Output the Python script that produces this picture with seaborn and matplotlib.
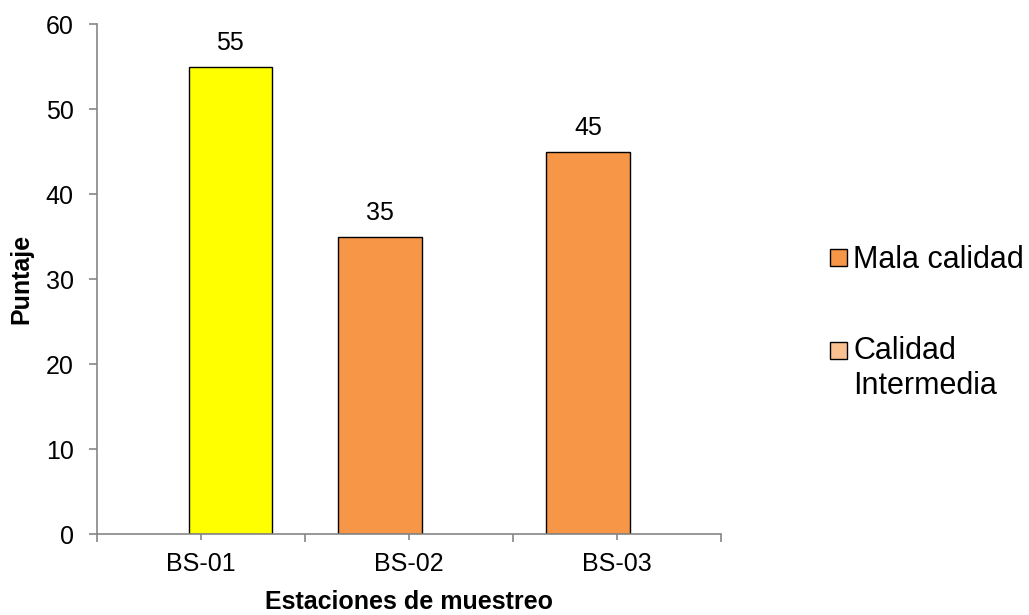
import matplotlib
matplotlib.use("Agg")
import matplotlib.pyplot as plt
from matplotlib.patches import Patch
from matplotlib.legend_handler import HandlerPatch
from matplotlib.ticker import FixedLocator
import pandas as pd
import seaborn as sns

# --- data ---------------------------------------------------------------
stations = ["BS-01", "BS-02", "BS-03"]
quality = ["Calidad Intermedia", "Mala calidad", "Mala calidad"]
scores = [55, 35, 45]
quality_levels = ["Mala calidad", "Calidad Intermedia"]
legend_labels = ["Mala calidad", "Calidad\nIntermedia"]
y_ticks = [0, 10, 20, 30, 40, 50, 60]

# --- style --------------------------------------------------------------
palette = {"Mala calidad": "#F79646", "Calidad Intermedia": "#FAC090"}
highlight = {"BS-01": "#FFFF00"}
axis_grey = "#868686"
bar_offset = 0.14          # distance of each series' bar from the category centre
bar_width = 0.8            # seaborn group width -> each bar 0.4

sns.set_style("white")
plt.rcParams["font.family"] = ["Liberation Sans", "DejaVu Sans"]
plt.rcParams["text.color"] = "black"
plt.rcParams["axes.labelcolor"] = "black"

df = pd.DataFrame({"Estación": stations, "Calidad": quality, "Puntaje": scores})

fig = plt.figure(figsize=(10.29, 6.15), dpi=100)
ax = fig.add_axes([0.0943, 0.1309, 0.6064, 0.8296])

sns.barplot(data=df, x="Estación", y="Puntaje", hue="Calidad",
            order=stations, hue_order=quality_levels, palette=palette,
            dodge=True, width=bar_width, edgecolor="black", linewidth=1.0,
            saturation=1, legend=False, ax=ax)

# pull the two series towards each other (overlapping series layout)
n = len(quality_levels)
for i, cont in enumerate(ax.containers):
    default_off = (i - (n - 1) / 2) * bar_width / n
    target_off = (i - (n - 1) / 2) * 2 * bar_offset
    for bar in cont:
        bar.set_x(bar.get_x() + target_off - default_off)

# recolour highlighted stations
for cont, level in zip(ax.containers, quality_levels):
    sub = df[df["Calidad"] == level]
    for bar, st in zip(cont, [s for s in stations if s in set(sub["Estación"])]):
        if st in highlight:
            bar.set_facecolor(highlight[st])

for cont in ax.containers:
    ax.bar_label(cont, labels=[f"{v:g}" for v in cont.datavalues],
                 padding=8.2, fontsize=18, color="black")

# axes
ax.set_ylim(0, 60)
ax.set_xlim(-0.5, len(stations) - 0.5)
ax.set_yticks(y_ticks)
ax.xaxis.set_minor_locator(FixedLocator([i - 0.5 for i in range(len(stations) + 1)]))
for side in ("top", "right"):
    ax.spines[side].set_visible(False)
for side in ("left", "bottom"):
    ax.spines[side].set_color(axis_grey)
    ax.spines[side].set_linewidth(1.2)
ax.tick_params(axis="y", which="major", direction="out", length=5.8, width=1.2,
               color=axis_grey, labelcolor="black", pad=11, labelsize=18, left=True)
ax.tick_params(axis="x", which="major", direction="out", length=4.3, width=1.2,
               color=axis_grey, labelcolor="black", pad=8.3, labelsize=18, bottom=True)
ax.tick_params(axis="x", which="minor", direction="out", length=5.8, width=1.2,
               color=axis_grey, bottom=True)

ax.set_xlabel("Estaciones de muestreo", fontsize=18, fontweight="bold", color="black")
ax.xaxis.set_label_coords(0.5, -0.109)
ax.set_ylabel("Puntaje", fontsize=18, fontweight="bold", color="black")
ax.yaxis.set_label_coords(-0.1026, 0.5)


class FirstLineHandler(HandlerPatch):
    """Square patch aligned with the first line of a wrapped label."""

    def __init__(self, lift=0.0, **kw):
        super().__init__(**kw)
        self.lift = lift

    def create_artists(self, legend, orig_handle, xdescent, ydescent,
                       width, height, fontsize, trans):
        arts = super().create_artists(legend, orig_handle, xdescent, ydescent,
                                      width, height, fontsize, trans)
        for a in arts:
            a.set_y(a.get_y() + self.lift)
        return arts


leg_fs = 22
handles = [Patch(facecolor=palette[q], edgecolor="black", linewidth=1.0)
           for q in quality_levels]
handler_map = {h: FirstLineHandler(lift=(lab.count("\n")) * 0.5 * 1.2 * leg_fs)
               for h, lab in zip(handles, legend_labels)}
leg = fig.legend(handles, legend_labels, handler_map=handler_map,
                 loc="upper left", bbox_to_anchor=(830 / 1029, 1 - 245 / 615),
                 frameon=False, fontsize=leg_fs, borderpad=0, borderaxespad=0,
                 handlelength=0.556, handleheight=0.478, handletextpad=0.2,
                 labelspacing=2.0)
for t in leg.get_texts():
    t.set_color("black")

fig.savefig("out.png", dpi=100)
